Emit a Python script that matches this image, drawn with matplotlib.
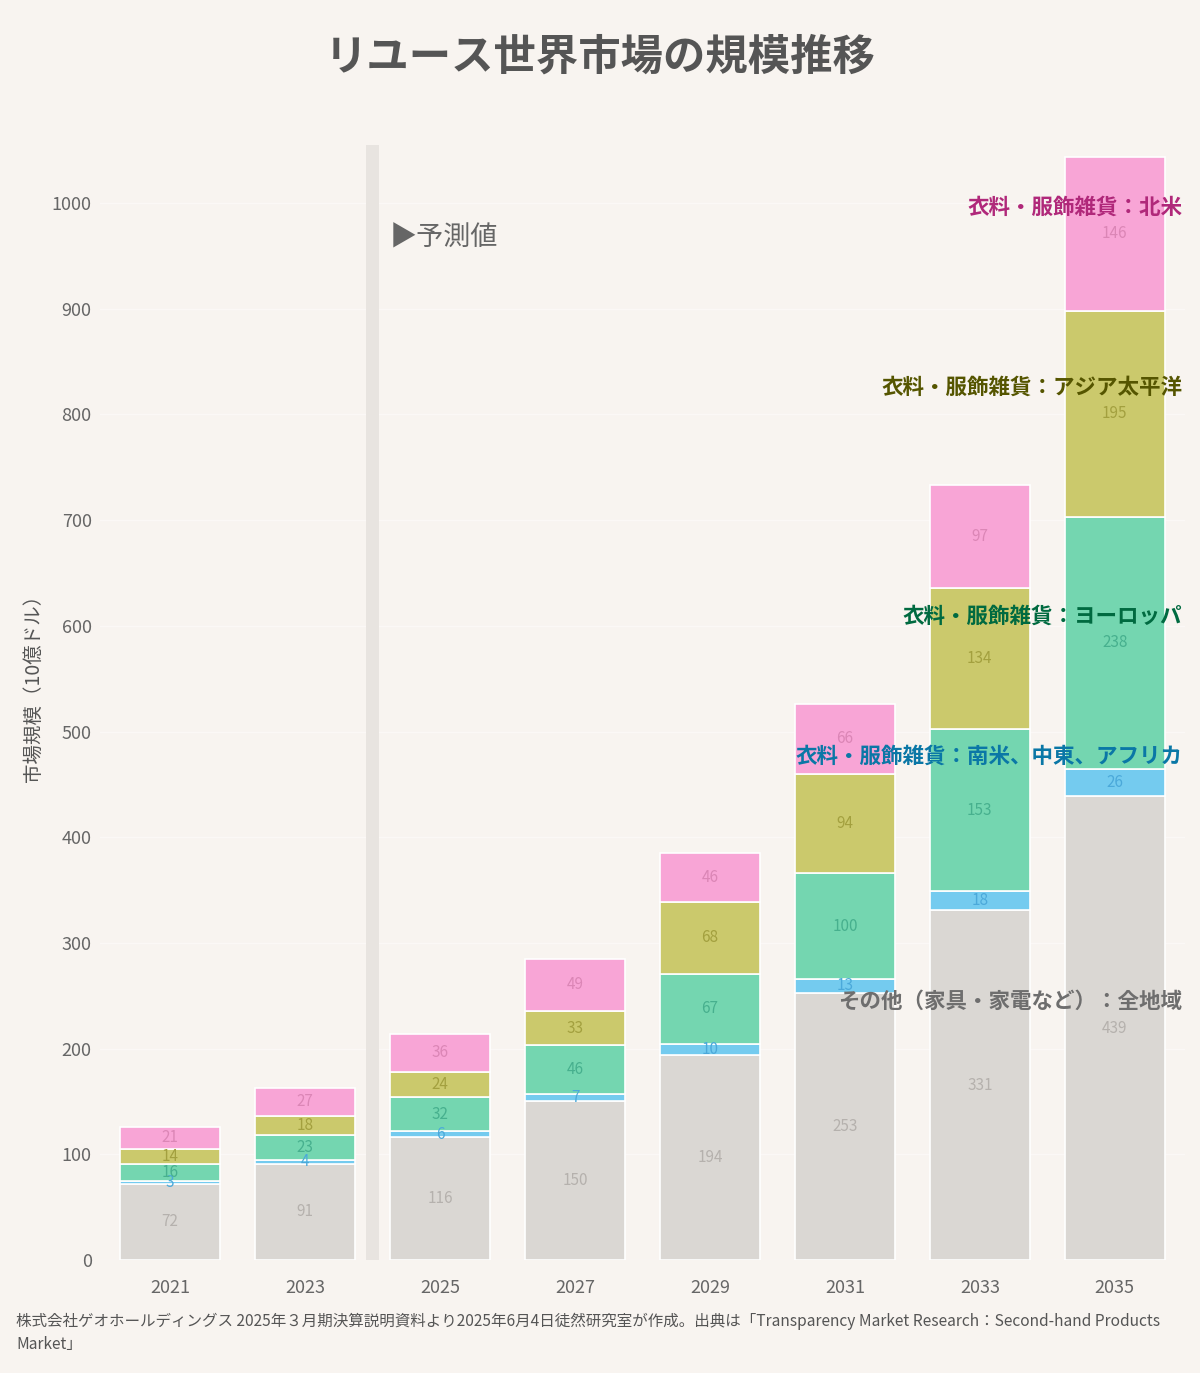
import matplotlib
matplotlib.use("Agg")
import matplotlib.pyplot as plt
import numpy as np

plt.rcParams['font.family'] = ['Noto Sans CJK JP', 'DejaVu Sans']

years = ["2021", "2023", "2025", "2027", "2029", "2031", "2033", "2035"]
series_names = [
    "その他（家具・家電など）：全地域",
    "衣料・服飾雑貨：南米、中東、アフリカ",
    "衣料・服飾雑貨：ヨーロッパ",
    "衣料・服飾雑貨：アジア太平洋",
    "衣料・服飾雑貨：北米",
]
other = [72, 91, 116, 150, 194, 253, 331, 439]
south_me_af = [3, 4, 6, 7, 10, 13, 18, 26]
europe = [16, 23, 32, 46, 67, 100, 153, 238]
asia_pac = [14, 18, 24, 33, 68, 94, 134, 195]
north_am = [21, 27, 36, 49, 46, 66, 97, 146]
yticks = [0, 100, 200, 300, 400, 500, 600, 700, 800, 900, 1000]

series = [other, south_me_af, europe, asia_pac, north_am]
fill_colors = ["#DAD7D3", "#74CBEF", "#74D6B0", "#CBC96C", "#F8A5D6"]
value_colors = ["#B5B1AD", "#4BA9DA", "#47B08E", "#A3A03F", "#DB86B6"]
name_colors = ["#6E6E6E", "#0A77A6", "#006A40", "#555500", "#B0287A"]

bg = "#F8F4F0"
fig = plt.figure(figsize=(12, 13.73), dpi=100, facecolor=bg)
ax = fig.add_axes([0.0833, 0.0823, 0.9042, 0.8121], facecolor=bg)

x = np.arange(len(years))
ax.set_xlim(-0.52, len(years) - 0.48)
ax.set_ylim(0, 1055)

for yv in yticks:
    ax.axhline(yv, color="#FFFFFF", lw=1.0, alpha=0.45, zorder=0)

# forecast separator
ax.axvspan(1.455, 1.545, ymin=0, ymax=1, color="#E8E4E0", lw=0, zorder=1)
ax.text(1.63, 967, "▶予測値", fontsize=19.5, color="#666666", va="center", ha="left",
        family=['Noto Sans CJK JP', 'DejaVu Sans'])

bottom = np.zeros(len(years))
for vals, fc, vc in zip(series, fill_colors, value_colors):
    v = np.array(vals, dtype=float)
    ax.bar(x, v, bottom=bottom, width=0.74, color=fc, edgecolor="white", linewidth=1.2, zorder=2)
    for xi, b, val in zip(x, bottom, v):
        ax.text(xi, b + val / 2, f"{int(val)}", ha="center", va="center", fontsize=11,
                color=vc, zorder=3)
    bottom = bottom + v

# series labels next to the last bar
last_bottom = 0.0
for vals, name, nc in zip(series, series_names, name_colors):
    mid = last_bottom + vals[-1] / 2
    ax.text(len(years) - 0.5, mid + 25, name, ha="right", va="center", fontsize=15.5,
            fontweight="bold", color=nc, zorder=4)
    last_bottom += vals[-1]

ax.set_xticks(x)
ax.set_xticklabels(years)
ax.set_yticks(yticks)
ax.set_yticklabels([str(t) for t in yticks])
ax.tick_params(axis="both", length=0, labelsize=13, colors="#666666")
ax.tick_params(axis="x", pad=14)
ax.tick_params(axis="y", pad=6)
for s in ax.spines.values():
    s.set_visible(False)

ax.set_ylabel("市場規模（10億ドル）", fontsize=14, color="#555555")
ax.yaxis.set_label_coords(-0.052, 0.5175)

fig.text(0.5, 0.958, "リユース世界市場の規模推移", ha="center", va="center", fontsize=30.5,
         fontweight="bold", color="#555555")
fig.text(0.0133, 0.0292,
         "株式会社ゲオホールディングス 2025年３月期決算説明資料より2025年6月4日徒然研究室が作成。出典は「Transparency Market Research：Second-hand Products\nMarket」",
         ha="left", va="center", fontsize=11.2, color="#555555", linespacing=1.5)

fig.savefig("out.png", dpi=100, facecolor=bg)
